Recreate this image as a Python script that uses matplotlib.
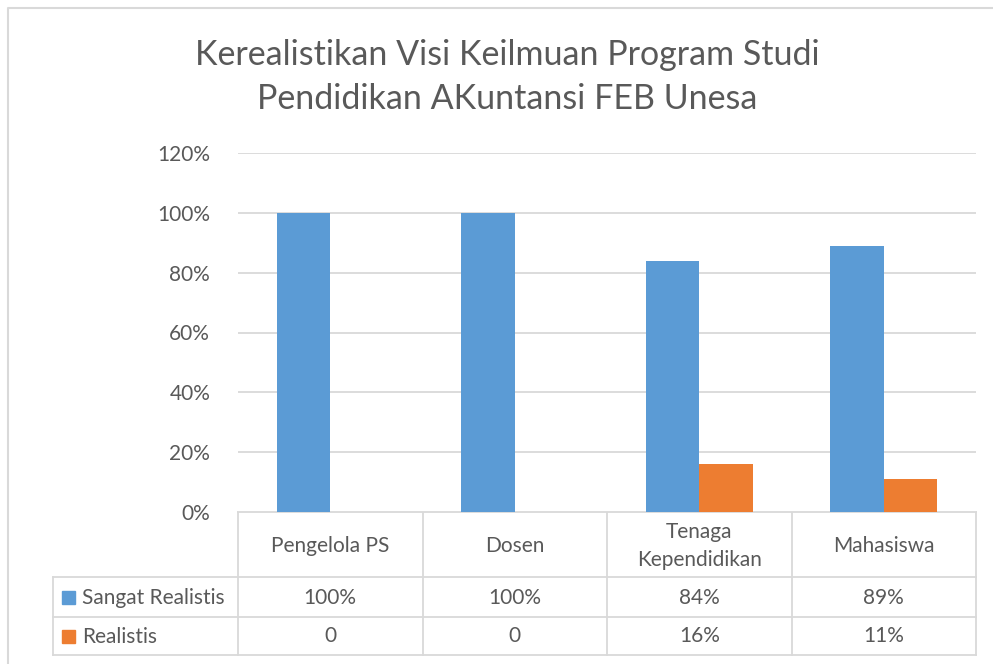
import matplotlib
matplotlib.use('Agg')
import matplotlib.pyplot as plt
import numpy as np
from matplotlib.patches import Rectangle

plt.rcParams['font.family'] = ['Lato', 'DejaVu Sans']

# Data
categories = ['Pengelola PS', 'Dosen', 'Tenaga\nKependidikan', 'Mahasiswa']
series_names = ['Sangat Realistis', 'Realistis']
sangat = [1.00, 1.00, 0.84, 0.89]
realistis = [0.0, 0.0, 0.16, 0.11]
table_sangat = ['100%', '100%', '84%', '89%']
table_realistis = ['0', '0', '16%', '11%']
yticks = [0, 0.2, 0.4, 0.6, 0.8, 1.0, 1.2]
colors = ['#5B9BD5', '#ED7D31']
TXT = '#595959'
GRID = '#D9D9D9'
FS = 15

W, H = 993, 664
fig = plt.figure(figsize=(W / 100, H / 100), dpi=100)

# plot area in pixels
px0, px1 = 238, 976
py_top, py_bot = 153, 512
ax = fig.add_axes([px0 / W, 1 - py_bot / H, (px1 - px0) / W, (py_bot - py_top) / H])

x = np.arange(len(categories))
bw = 0.29
ax.bar(x - bw / 2, sangat, bw, color=colors[0], zorder=3)
ax.bar(x + bw / 2, realistis, bw, color=colors[1], zorder=3)
ax.set_xlim(-0.5, len(categories) - 0.5)
ax.set_ylim(0, 1.2)
ax.set_yticks(yticks)
ax.set_yticklabels([f'{int(round(v * 100))}%' for v in yticks], color=TXT, fontsize=FS)
ax.yaxis.grid(True, color=GRID, linewidth=1.3, zorder=0)
ax.tick_params(axis='y', length=0, pad=20)
ax.set_xticks([])
for s in ax.spines.values():
    s.set_visible(False)

# overlay in pixel coords for table, title and border
ov = fig.add_axes([0, 0, 1, 1], zorder=-1)
ov.set_xlim(0, W)
ov.set_ylim(H, 0)
ov.axis('off')

ov.plot([8, 8, W], [H, 8, 8], color=GRID, lw=1.5)

ov.text(507, 55, 'Kerealistikan Visi Keilmuan Program Studi', ha='center', va='center',
        fontsize=24.5, color=TXT)
ov.text(507, 99, 'Pendidikan AKuntansi FEB Unesa', ha='center', va='center',
        fontsize=24.5, color=TXT)

# table
colw = (px1 - px0) / len(categories)
row_y = [512, 577, 617, 655]
lc = dict(color=GRID, lw=1.3)
ov.plot([px0, px1], [row_y[0], row_y[0]], **lc)
for yy in row_y[1:]:
    ov.plot([53, px1], [yy, yy], **lc)
for i in range(len(categories) + 1):
    xx = px0 + i * colw
    ov.plot([xx, xx], [row_y[0], row_y[3]], **lc)
ov.plot([53, 53], [row_y[1], row_y[3]], **lc)

for i, cat in enumerate(categories):
    cx = px0 + (i + 0.5) * colw
    ov.text(cx, (row_y[0] + row_y[1]) / 2 + 2, cat, ha='center', va='center',
            fontsize=FS, color=TXT, linespacing=1.5)
    ov.text(cx, (row_y[1] + row_y[2]) / 2 + 1, table_sangat[i], ha='center', va='center',
            fontsize=FS, color=TXT)
    ov.text(cx, (row_y[2] + row_y[3]) / 2, table_realistis[i], ha='center', va='center',
            fontsize=FS, color=TXT)

for r, (name, c) in enumerate(zip(series_names, colors)):
    cy = (row_y[r + 1] + row_y[r + 2]) / 2
    ov.add_patch(Rectangle((62, cy - 6.5), 13, 13, color=c))
    ov.text(82, cy + 1, name, ha='left', va='center', fontsize=FS, color=TXT)

fig.savefig('out.png', dpi=100)
